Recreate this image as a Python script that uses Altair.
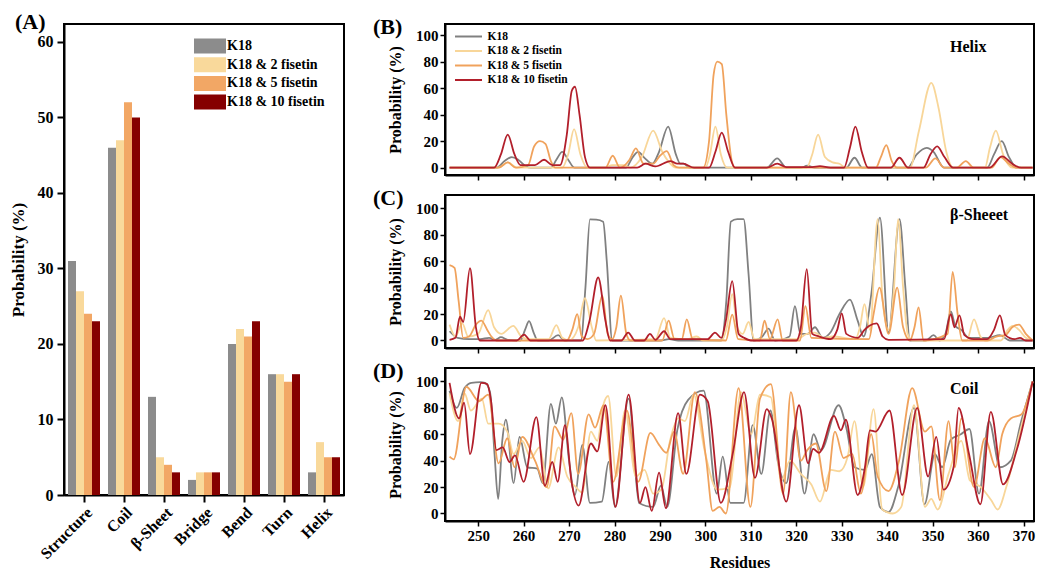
import altair as alt
import pandas as pd

FONT = "Liberation Serif"

SERIES = ["K18", "K18 & 2 fisetin", "K18 & 5 fisetin", "K18 & 10 fisetin"]
BAR_COLORS = ["#8c8c8c", "#f9d99b", "#f2a765", "#850000"]
LINE_COLORS = ["#808080", "#f8d699", "#f0a25c", "#b21f2b"]

# ---- Panel A: secondary structure content ----
CATEGORIES = ["Structure", "Coil", "β-Sheet", "Bridge", "Bend", "Turn", "Helix"]
BAR_K18 = [31, 46, 13, 2, 20, 16, 3]
BAR_F2 = [27, 47, 5, 3, 22, 16, 7]
BAR_F5 = [24, 52, 4, 3, 21, 15, 5]
BAR_F10 = [23, 50, 3, 3, 23, 16, 5]

# ---- Panel B: helix probability per residue (residue, %) ----
HELIX_K18 = [(243.7,0),(254,0),(255.8,5),(257.4,8),(258.8,6),(260.5,1),(261.5,0),(266,0),(267.2,6),(268.5,12),(269.8,6),(271.2,0),(282.5,0),(284,8),(285.2,12),(286.7,7),(288.3,3),(289.8,12),(291.8,31),(293.5,10),(294.5,3),(295.2,3),(296.5,0),(313.5,0),(315.8,7),(317.8,0),(321,0),(322.4,1.5),(324,0),(331,0),(332.8,7.5),(334.5,0),(344.5,0),(346.5,10),(348.7,15),(350.2,12),(352.5,0),(362,0),(363.5,10),(365.2,20),(366.8,8),(368.5,0),(372,0)]
HELIX_F2 = [(243.7,0),(254.5,0),(256.5,4),(258.5,0),(268.5,0),(269.8,10),(271.1,29),(272.5,10),(274,0),(278,0),(279.5,2),(282,2),(283.5,0),(286,8),(288.5,28),(290.5,12),(292,4),(293.5,0),(300,0),(301,10),(302.2,31),(303.4,10),(304.8,0),(322.3,0),(323.5,10),(324.8,25),(326.3,8),(328,4),(329.5,3),(330.8,0),(345,0),(347,28),(349.7,64),(351.3,45),(353,12),(354.5,0),(361.5,0),(362.6,15),(363.9,28),(365.5,10),(367.5,0),(372,0)]
HELIX_F5 = [(243.7,0),(254.5,0),(256.5,4),(258.3,0),(261,2),(262.3,16),(263.6,20),(264.8,18),(266,5),(267,0),(278,0),(279.6,9),(281.2,0),(283.3,6),(284.7,14.5),(286.4,3),(288.5,3),(290,9),(291.5,12.5),(293,2),(294.2,0),(299.5,0),(300.8,20),(301.8,70),(302.6,80),(303.6,78),(304.6,40),(305.8,5),(306.5,0),(337.5,0),(338.6,8),(339.8,17),(341,5),(342.2,0),(348.5,0),(350.6,7),(352.5,0),(355.3,0),(357.3,5),(359,0),(363,0),(364.9,8),(366.8,3),(368.5,0),(372,0)]
HELIX_F10 = [(243.7,0),(253.5,0),(255,10),(256.5,25),(258,10),(259.3,2),(262.5,2),(264.5,6),(266.3,2),(268,2),(269.5,25),(270.6,58),(271.3,61),(272.3,40),(273.5,8),(274.6,0),(285,0),(286.8,3),(289,1),(292.3,5),(293.8,3),(295.1,3),(297.5,0),(300.8,0),(302.2,12),(303.6,26.5),(305,12),(306.5,0),(313.5,0),(315.8,3),(317.8,0.5),(323.5,0.5),(325.2,1.2),(327.5,0),(330.5,0),(331.8,15),(333,31),(334.4,12),(335.8,0),(340.8,0),(342.7,7.5),(344.6,0),(348,0),(349.5,10),(351,16),(352.6,8),(354.5,0),(362.5,0),(365.3,8.5),(367.5,3),(369.5,0),(372,0)]

# ---- Panel C: beta-sheet probability per residue ----
SHEET_K18 = [(243.7,7),(245.5,2),(248,1),(250.5,1),(252.4,2),(253.8,0.5),(255,2.5),(256.5,0.5),(259.3,0),(260.3,8),(261.2,14.6),(262.2,6),(263.1,0),(265.5,0),(267.6,4),(269,0),(272.6,0),(273.6,40),(274.6,91.7),(276,91.5),(277.5,90),(278.3,60),(279.5,0),(290,0),(292,1),(294,0),(303.5,0),(304.6,30),(305.6,90),(307,92),(308.4,92),(309.5,50),(310.6,0),(312.5,3),(313.9,9),(315.3,0),(318.5,3),(319.7,26),(320.9,5),(322.5,5),(324.1,10),(325.8,2),(327.5,6),(329.5,20),(331.8,31),(333.5,15),(334.8,3),(336.5,35),(338.4,93),(340.3,6),(342.7,92),(344,40),(345,0),(348.5,0),(350.2,4),(351.5,0),(352.8,5),(354,22),(355,11),(356.3,8),(358,2),(362,2),(364.8,4),(367,0),(372,0)]
SHEET_F2 = [(243.7,12),(245,3),(246.5,13),(247.8,3),(250,5),(252.2,23),(253.5,10),(255.1,5),(257.7,11),(259.5,3),(261,1),(265.5,1),(267.2,11.6),(268.5,2),(270,0),(272,10),(273.5,32),(275,10),(276,0),(289,1),(290.9,17),(292.3,2),(296,1),(298.1,3),(299.5,0),(303.5,0),(304.7,10),(305.9,35),(307,10),(308.2,5),(309.5,14),(310.8,1),(320,1),(322.3,5),(324.1,6),(326,2),(328,3),(333,1),(334,10),(335,27.6),(336.2,8),(337.9,92),(339,30),(340.3,8),(341.5,40),(342.4,92),(343.5,40),(344.5,5),(345.5,0),(357.5,0),(359.1,16),(360.5,3),(361.5,0),(365,0),(366.5,8),(367.6,11),(369,8),(370.5,2),(372,0)]
SHEET_F5 = [(243.7,57),(244.8,55),(245.7,30),(246.7,2),(248,3),(249.5,12),(250.7,15),(252,8),(252.9,3),(254,0),(269.5,0),(270.7,8),(271.8,20),(272.8,3),(274,1),(275.5,5),(277.3,34),(278.5,5),(279.5,1),(280.4,10),(281.4,34),(282.6,5),(283.5,0),(290.5,0),(291.9,15),(293.2,1),(294.8,1),(295.9,16),(297.2,1),(304.5,0),(305.9,19.6),(307.2,1),(312,0),(313,15),(314.2,1),(315.9,16),(317,0),(320.8,0),(322,26),(323.3,2),(336,1),(337,20),(338.3,40),(340.3,5),(342.2,40),(343.5,10),(345,0),(346,10),(346.9,25),(348,0),(353.3,5),(354.4,52),(355.5,20),(356.5,0),(362,0),(364,3),(366,4),(367.5,10),(369,12),(370.5,5),(372,0)]
SHEET_F10 = [(243.7,0.5),(245,2),(246,18),(246.7,14),(248.2,54.8),(249.5,10),(250.4,0),(258.5,0),(260.1,4.5),(261.5,0),(273,0),(274.5,15),(276.4,47.7),(278,15),(279,0),(281.5,0),(283,6),(284.5,0),(286.5,0),(287.8,5),(289,0.5),(290.9,7),(292.3,1),(300.5,1),(302.1,6),(303.5,2),(304.5,15),(305.9,45),(307.3,5),(308.5,2),(310,0),(320,0),(321,10),(322.3,54),(323.5,5),(325,3),(327.5,1),(329,8),(330,20.6),(331,5),(333.5,2),(335,8),(336,11),(337.7,13),(339,3),(340.3,0.5),(352.5,1),(354,20),(354.8,10),(355.9,19),(357,4),(359,1),(362,1),(363.5,8),(364.8,19),(366,4),(368,1),(369.2,2),(370.5,0),(372,0)]

# ---- Panel D: coil probability per residue ----
COIL_K18 = [(243.7,93),(245.3,80),(247,95),(248.5,99),(250.5,99.5),(251.5,99),(252.6,92),(253.6,45),(254.4,11),(255.3,55),(256.1,71),(257.8,23),(259.1,58),(260.8,35),(263,34),(264.2,23),(266,83),(267.1,68),(268.4,88),(270,40),(271.3,14),(272.9,52),(274.6,8),(277.2,9),(278.7,39),(280.1,5),(283.1,87),(285.4,8),(288.5,5),(290.2,21),(291.6,5),(293.8,63),(296.2,86),(299.6,93),(302.5,15),(303.8,43),(305.5,8),(308.4,8),(310.4,67),(312.3,30),(314.3,78),(316,38),(317.8,23),(319.8,65),(321.8,15),(323.8,60),(325.4,48),(329.3,82),(331,65),(332.8,35),(335.1,33),(336.6,45),(338.4,5),(340.3,1),(342.4,20),(345.9,80),(348.2,7),(350.5,45),(352.1,35),(354,56),(356.2,60),(358.1,64),(360.2,15),(362.4,70),(364.8,35),(367.2,40),(369.5,70),(372,100)]
COIL_F2 = [(243.7,91),(245.6,70),(247,91),(248.4,78),(250.8,87),(252.2,68),(254.5,68),(256.4,62),(257.8,45),(259.7,55),(261.6,42),(263.5,50),(265.4,19),(267.7,50),(269.6,28),(271.5,20),(272.9,16),(274.8,62),(276.2,55),(277.6,83),(278.6,89),(280.4,28),(282.3,78),(284.7,28),(286.6,33),(288.5,15),(290.3,18),(292.2,55),(294.1,72),(295.5,70),(297.4,90),(299.8,48),(302.6,18),(305.4,20),(307.8,92),(310.1,60),(312,90),(314.4,88),(316.7,25),(318.6,40),(321,30),(323.3,22),(325.2,9),(327.6,33),(329.5,32),(331.3,43),(332.8,70),(334.7,20),(337,79),(338.9,3),(341.2,0),(343.1,5),(345.9,82),(348.3,5),(349.7,11),(351.1,3),(353.5,30),(356.3,55),(358.2,25),(360.6,20),(362.9,10),(364.3,3),(366.2,20),(369.1,60),(372,100)]
COIL_F5 = [(243.7,43),(244.6,41),(247.4,96),(250.2,85),(252.2,90),(254.5,38),(256.4,57),(258,35),(259.7,58),(262.5,40),(265.1,20),(266.8,66),(268.7,56),(270.5,76),(272,30),(274.3,75),(275.7,65),(277.6,82),(279.7,24),(282.7,78),(285.2,24),(287.9,61),(289.8,52),(291.4,46),(293.1,62),(295.1,30),(297.7,92),(300.2,40),(301.6,2),(303.1,5),(304.5,0),(307.3,95),(309.9,5),(312,87),(314.4,98),(317.1,15),(318.8,92),(321,40),(322.4,48),(324.3,53),(326.6,17),(328.5,62),(330.4,42),(332.3,45),(334.2,15),(336.5,60),(337.9,28),(340.3,17),(342.6,40),(345.5,95),(348.3,62),(349.7,66),(351.6,10),(353.5,70),(354.9,35),(356.3,72),(359.1,20),(361.5,57),(363.9,35),(365.3,60),(367.2,72),(369.5,75),(372,100)]
COIL_F10 = [(243.7,99),(245.8,72),(246.9,84),(248.2,45),(250.7,99),(252,98),(252.8,86),(254,48),(255.4,50),(256.9,39),(258.1,44),(260,24),(262.8,73),(264.7,21),(266.3,39),(267.5,24),(269.1,67),(270.5,25),(272.1,6),(274.8,53),(276.2,47),(278,82),(280.2,5),(283.1,90),(285.6,8),(286.8,20),(288.2,2),(289.8,31),(291.3,4),(294,76),(295.8,30),(298.8,90),(300.5,85),(303.4,8),(306,45),(308.5,92),(310.9,27),(313.5,79),(314.6,72),(317.8,9),(320.6,82),(322.6,38),(323.7,49),(325,46),(328.3,74),(329.8,63),(330.9,71),(333.5,14),(335.1,35),(336.2,63),(337.4,62),(340.5,78),(343.3,14),(346.6,80),(349,28),(350.8,58),(352.4,18),(354.6,35),(355.7,80),(358,45),(360.5,7),(362.8,77),(365.5,22),(368.5,48),(372,100)]

W_A, H_A = 280, 471
A_Y_DOMAIN = [0, 62.38]
W_R = 589
X_DOMAIN = [242.7, 372.3]


def bar_frame():
    rows = []
    for name, vals in zip(SERIES, [BAR_K18, BAR_F2, BAR_F5, BAR_F10]):
        for cat, v in zip(CATEGORIES, vals):
            rows.append({"structure": cat, "sample": name, "prob": v})
    return pd.DataFrame(rows)


def line_frame(lists):
    rows = []
    for name, pts in zip(SERIES, lists):
        for r, v in pts:
            rows.append({"series": name, "residue": r, "prob": v})
    return pd.DataFrame(rows)


def text_layer(txt, x, y, size, align="left", baseline="top", opacity=1.0):
    return alt.Chart(pd.DataFrame({"t": [txt]})).mark_text(
        font=FONT, fontSize=size, fontWeight="bold", align=align,
        baseline=baseline, color="black", opacity=opacity
    ).encode(text="t:N", x=alt.value(x), y=alt.value(y))


# ---------------- Panel A ----------------
legend_a = alt.Legend(
    title=None, orient="none", legendX=139, legendY=15, padding=0,
    symbolType="M-2.286,-1.07H2.286V1.07H-2.286Z", symbolSize=196,
    symbolStrokeWidth=0, symbolOpacity=1,
    labelFont=FONT, labelFontSize=14, labelFontWeight="bold", labelColor="black",
    labelOffset=10, rowPadding=2.7,
)

bars = alt.Chart(bar_frame()).mark_bar().encode(
    x=alt.X("structure:N", sort=CATEGORIES,
            scale=alt.Scale(paddingInner=0.2, paddingOuter=0.1),
            axis=alt.Axis(title=None, labelAngle=-45, labelFont=FONT, labelFontSize=16,
                          labelFontWeight="bold", labelColor="black", tickSize=7,
                          tickWidth=2, tickColor="black", domainColor="black",
                          domainWidth=2, labelPadding=2)),
    xOffset=alt.XOffset("sample:N", sort=SERIES, scale=alt.Scale(domain=SERIES)),
    y=alt.Y("prob:Q", scale=alt.Scale(domain=A_Y_DOMAIN, nice=False),
            axis=alt.Axis(values=[0, 10, 20, 30, 40, 50, 60], title="Probability (%)",
                          titleFont=FONT, titleFontSize=17, titleFontWeight="bold",
                          titleColor="black", labelFont=FONT, labelFontSize=16,
                          labelFontWeight="bold", labelColor="black", tickSize=7,
                          tickWidth=2, tickColor="black", domainColor="black",
                          domainWidth=2, labelPadding=4, titlePadding=10, grid=False)),
    color=alt.Color("sample:N", sort=SERIES,
                    scale=alt.Scale(domain=SERIES, range=BAR_COLORS), legend=legend_a),
)

panel_a = alt.layer(
    bars,
    text_layer("(A)", -49, -12, 22),
    text_layer("(A)", -49, -14, 22, opacity=0),
).properties(width=W_A, height=H_A)


# ---------------- Panels B, C, D ----------------
def line_panel(lists, height, y_domain, letter, letter_y, label, label_y, legend, bottom):
    color_legend = None
    if legend:
        color_legend = alt.Legend(
            title=None, orient="none", legendX=17, legendY=6, padding=0,
            symbolType="M-2.45,0H2.45", symbolSize=121, symbolStrokeWidth=2,
            labelFont=FONT, labelFontSize=11.5, labelFontWeight="bold",
            labelColor="black", labelOffset=12.5, rowPadding=2.5,
        )
    x_axis = alt.Axis(values=list(range(250, 371, 10)), labels=bottom,
                      title="Residues" if bottom else None,
                      titleFont=FONT, titleFontSize=16, titleFontWeight="bold",
                      titleColor="black", titlePadding=11,
                      labelFont=FONT, labelFontSize=15, labelFontWeight="bold",
                      labelColor="black", labelPadding=2, tickSize=5, tickWidth=1.5,
                      tickColor="black", domainColor="black", domainWidth=2, grid=False)
    y_axis = alt.Axis(values=[0, 20, 40, 60, 80, 100], title="Probability (%)",
                      titleFont=FONT, titleFontSize=16, titleFontWeight="bold",
                      titleColor="black", titlePadding=12,
                      labelFont=FONT, labelFontSize=15, labelFontWeight="bold",
                      labelColor="black", labelPadding=2, tickSize=5, tickWidth=1.5,
                      tickColor="black", domainColor="black", domainWidth=2, grid=False)
    lines = alt.Chart(line_frame(lists)).mark_line(
        strokeWidth=1.8, interpolate="monotone", clip=True
    ).encode(
        x=alt.X("residue:Q", scale=alt.Scale(domain=X_DOMAIN, nice=False, zero=False),
                axis=x_axis),
        y=alt.Y("prob:Q", scale=alt.Scale(domain=y_domain, nice=False, zero=False),
                axis=y_axis),
        color=alt.Color("series:N", sort=SERIES,
                        scale=alt.Scale(domain=SERIES, range=LINE_COLORS),
                        legend=color_legend),
    )
    return alt.layer(
        lines,
        text_layer(letter, -72, letter_y, 22),
        text_layer(label, 505, label_y, 16, baseline="middle"),
    ).properties(width=W_R, height=height)


panel_b = line_panel([HELIX_K18, HELIX_F2, HELIX_F5, HELIX_F10], 151, [-5.5, 108.3],
                     "(B)", -7, "Helix", 23, True, False)
panel_c = line_panel([SHEET_K18, SHEET_F2, SHEET_F5, SHEET_F10], 153, [-5.7, 110.2],
                     "(C)", -7, "β-Sheeet", 20, False, False)
panel_d = line_panel([COIL_K18, COIL_F2, COIL_F5, COIL_F10], 153, [-5.7, 110.2],
                     "(D)", -7, "Coil", 21, False, True)

right = alt.vconcat(panel_b, panel_c, panel_d, spacing=4).resolve_scale(color="independent")

chart = alt.hconcat(panel_a, right, spacing=27).resolve_scale(
    color="independent"
).resolve_legend(color="independent").properties(
    padding=0, background="white"
).configure_view(stroke="black", strokeWidth=2)

chart.save("out.html", embed_options={"renderer": "svg", "actions": False})
